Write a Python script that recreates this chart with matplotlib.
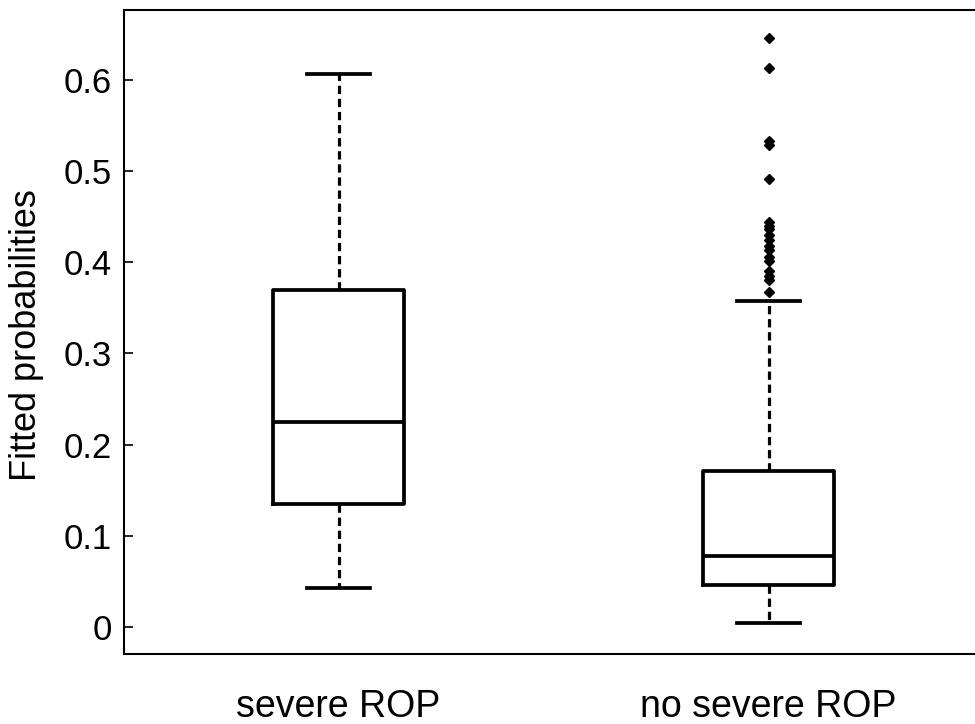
import matplotlib
matplotlib.use("Agg")
import matplotlib.pyplot as plt

plt.rcParams['font.family'] = ['Liberation Sans', 'DejaVu Sans']

groups = ['severe ROP', 'no severe ROP']
whislo = [0.043, 0.004]
q1 = [0.1345, 0.046]
med = [0.225, 0.078]
q3 = [0.369, 0.171]
whishi = [0.606, 0.357]
# outliers of the "no severe ROP" group
outliers_no = [0.646, 0.613, 0.533, 0.528, 0.491, 0.444, 0.440, 0.436, 0.430,
               0.424, 0.418, 0.413, 0.406, 0.401, 0.390, 0.385, 0.381, 0.367]
fliers = [[], outliers_no]
yticks = [0, 0.1, 0.2, 0.3, 0.4, 0.5, 0.6]

stats = []
for i in range(len(groups)):
    stats.append(dict(label=groups[i], whislo=whislo[i], q1=q1[i], med=med[i],
                      q3=q3[i], whishi=whishi[i], fliers=fliers[i]))

fig = plt.figure(figsize=(9.75, 7.24), dpi=100)
# axes runs a little past the right edge of the picture, as in the reference
ax = fig.add_axes([123.5/975, 70/724, 860/975, 644/724])

lw = 2.7
ax.bxp(stats, positions=[1, 2], widths=0.304, capwidths=0.147,
       boxprops=dict(color='black', linewidth=lw),
       medianprops=dict(color='black', linewidth=lw),
       whiskerprops=dict(color='black', linewidth=2.3, linestyle=(0, (2.6, 1.5))),
       capprops=dict(color='black', linewidth=lw),
       flierprops=dict(marker='D', markersize=5.5, markerfacecolor='black',
                       markeredgecolor='black'))

ax.set_xlim(0.5, 2.5)
ax.set_ylim(-0.0296, 0.6765)
ax.set_yticks(yticks)
ax.set_yticklabels(['0'] + ['%.1f' % v for v in yticks[1:]], fontsize=25)
ax.tick_params(axis='y', direction='in', length=6.5, width=1.2, right=True, pad=8.5)
ax.tick_params(axis='x', length=0, pad=25, labelsize=27)
ax.set_xticks([1, 2])
ax.set_xticklabels(groups)
ax.set_ylabel('Fitted probabilities', fontsize=26)
ax.yaxis.set_label_coords(-0.093, 0.495)
for s in ax.spines.values():
    s.set_linewidth(1.5)

fig.savefig('out.png', dpi=100)
